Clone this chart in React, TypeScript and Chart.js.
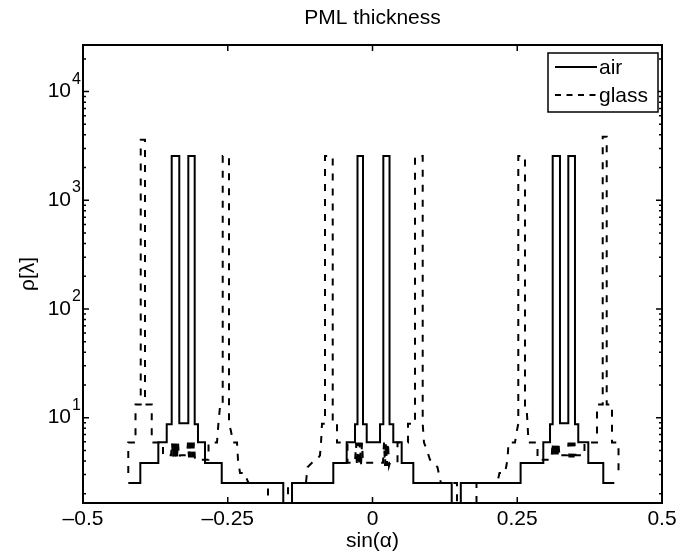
import React, { useEffect, useRef } from "react";
import { Chart, registerables } from "chart.js";

Chart.register(...registerables);

const FONT_FAMILY = "'Liberation Sans', Arial, Helvetica, sans-serif";

const titleText = "PML thickness";
const xAxisLabel = "sin(α)";
const yAxisLabel = "ρ[λ]";
const seriesNames = ["air", "glass"];

const xRange = [-0.5, 0.5];
const yRange = [1.64, 26850];
const xTickValues = [-0.5, -0.25, 0, 0.25, 0.5];
const xTickLabels = ["–0.5", "–0.25", "0", "0.25", "0.5"];
const yTickValues = [10, 100, 1000, 10000];
const yTickBase = ["10", "10", "10", "10"];
const yTickExponents = ["1", "2", "3", "4"];
const yMinorTickValues = [
  2, 3, 4, 5, 6, 7, 8, 9,
  20, 30, 40, 50, 60, 70, 80, 90,
  200, 300, 400, 500, 600, 700, 800, 900,
  2000, 3000, 4000, 5000, 6000, 7000, 8000, 9000,
  20000,
];

// "air": level changes (each value holds from its x until the next x)
const airX = [
  -0.4218, -0.401, -0.3699, -0.3554, -0.3468, -0.3337, -0.3181, -0.3071, -0.3014, -0.2893,
  -0.2604, -0.1541, -0.139, -0.0677, -0.0446, -0.0302, -0.0259, -0.0164, -0.01, 0.013,
  0.0187, 0.0294, 0.0359, 0.0504, 0.0705, 0.1368, 0.1525, 0.2558, 0.295, 0.3066,
  0.3112, 0.3238, 0.3382, 0.3497, 0.3554, 0.3727, 0.3986, 0.4176,
];
const airY = [
  2.51, 3.83, 5.93, 8.7, 2550, 8.9, 2550, 8.7, 5.93, 3.83,
  2.51, 1.0, 2.51, 3.83, 5.93, 8.7, 2550, 8.7, 5.93, 8.7,
  2550, 8.7, 5.93, 3.83, 2.51, 1.0, 2.51, 3.83, 5.93, 8.7,
  2550, 8.9, 2550, 8.7, 5.93, 3.83, 2.51, 2.51,
];

// "glass": curve vertices
const glassX = [
  -0.4218, -0.4218, -0.4093, -0.4093, -0.4003, -0.4003, -0.3929, -0.3929, -0.3813, -0.3813, -0.3618, -0.3618, -0.348,
  -0.3463, -0.3446, -0.3428, -0.3411, -0.3394, -0.3377, -0.3359, -0.3342, -0.3325, -0.3204,
  -0.3187, -0.3169, -0.3152, -0.3135, -0.3117, -0.31, -0.3083, -0.3066,
  -0.2832, -0.2832, -0.2686, -0.266, -0.2634, -0.2587, -0.2587, -0.2478, -0.2478,
  -0.2444, -0.2409, -0.234, -0.2323, -0.2288, -0.2202, -0.2168, -0.2142,
  -0.1805, -0.1805, -0.1459, -0.1459,
  -0.1149, -0.1123, -0.1045, -0.0959, -0.0907, -0.0889, -0.0872,
  -0.082, -0.082, -0.0687, -0.0687, -0.0613, -0.0613, -0.0432, -0.0432, -0.0302,
  -0.0285, -0.0268, -0.025, -0.0233, -0.0216, -0.0199, -0.0181, -0.0164, 0.0181,
  0.0199, 0.0216, 0.0233, 0.025, 0.0268, 0.0285, 0.0302,
  0.0432, 0.0432, 0.0613, 0.0613, 0.0734, 0.0734, 0.0867, 0.0867,
  0.0889, 0.0941, 0.0993, 0.1045, 0.1123, 0.1166, 0.1183,
  0.1459, 0.1459, 0.1796, 0.1796,
  0.2142, 0.2168, 0.2193, 0.2288, 0.2332, 0.2349, 0.2461, 0.2492,
  0.2518, 0.2518, 0.2634, 0.2634, 0.266, 0.2677, 0.2694, 0.285, 0.285, 0.3092,
  0.3109, 0.3126, 0.3143, 0.3161, 0.3178, 0.3195, 0.3212, 0.323, 0.3247, 0.3368,
  0.3385, 0.3402, 0.342, 0.3437, 0.3454, 0.3472, 0.3489, 0.3506,
  0.3661, 0.3661,
  0.3877, 0.3877, 0.3976, 0.3976, 0.4045, 0.4045, 0.4136, 0.4136, 0.4249, 0.4249,
];
const glassY = [
  3.1, 5.9, 5.9, 13.2, 13.2, 3600, 3600, 13.2, 13.2, 5.9, 5.9, 4.5, 4.5,
  5.9, 4.3, 5.9, 4.3, 5.9, 4.3, 5.9, 4.3, 4.5, 4.5,
  5.9, 4.3, 5.9, 4.3, 5.9, 4.3, 5.9, 4.1,
  4.1, 5.9, 5.9, 9, 12.6, 12.6, 2550, 2550, 8.8,
  7.5, 5.9, 5.9, 4.1, 3.1, 3.1, 2.7, 2.51,
  2.51, 1.0, 1.0, 2.51,
  2.51, 3.5, 3.85, 4.1, 4.5, 5.9, 8.8,
  8.8, 2550, 2550, 8.8, 8.8, 5.9, 5.9, 3.85, 3.85,
  5.9, 3.6, 5.9, 3.6, 5.9, 3.6, 5.9, 3.85, 3.85,
  5.9, 3.6, 5.9, 3.6, 5.9, 3.6, 3.85,
  3.85, 5.9, 5.9, 8.8, 8.8, 2550, 2550, 8.8,
  5.9, 5.0, 4.1, 3.85, 3.5, 2.7, 2.51,
  2.51, 1.0, 1.0, 2.51,
  2.51, 2.7, 3.1, 3.1, 4.1, 5.9, 5.9, 7.5,
  8.8, 2550, 2550, 12.6, 12.6, 9, 5.9, 5.9, 4.1, 4.1,
  5.9, 4.3, 5.9, 4.3, 5.9, 4.3, 5.9, 4.3, 4.5, 4.5,
  5.9, 4.3, 5.9, 4.3, 5.9, 4.3, 5.9, 4.5,
  4.5, 5.9,
  5.9, 13.2, 13.2, 3850, 3850, 13.2, 13.2, 5.9, 5.9, 3.1,
];

const matlabAxesPlugin = {
  id: "matlabAxes",
  afterDraw(chart: any) {
    const { ctx, chartArea: a, scales } = chart;
    const xs = scales.x;
    const ys = scales.y;
    ctx.save();
    ctx.strokeStyle = "#000";
    ctx.lineCap = "butt";

    // inward ticks
    ctx.lineWidth = 1.5;
    ctx.beginPath();
    xTickValues.forEach((v) => {
      const px = xs.getPixelForValue(v);
      ctx.moveTo(px, a.bottom);
      ctx.lineTo(px, a.bottom - 6);
      ctx.moveTo(px, a.top);
      ctx.lineTo(px, a.top + 6);
    });
    yTickValues.forEach((v) => {
      const py = ys.getPixelForValue(v);
      ctx.moveTo(a.left, py);
      ctx.lineTo(a.left + 6, py);
      ctx.moveTo(a.right, py);
      ctx.lineTo(a.right - 6, py);
    });
    yMinorTickValues.forEach((v) => {
      const py = ys.getPixelForValue(v);
      ctx.moveTo(a.left, py);
      ctx.lineTo(a.left + 3, py);
      ctx.moveTo(a.right, py);
      ctx.lineTo(a.right - 3, py);
    });
    ctx.stroke();

    // frame
    ctx.lineWidth = 2;
    ctx.strokeRect(a.left, a.top, a.right - a.left, a.bottom - a.top);

    // exponents of the y tick labels
    ctx.fillStyle = "#000";
    ctx.font = `16px ${FONT_FAMILY}`;
    ctx.textAlign = "left";
    ctx.textBaseline = "alphabetic";
    yTickValues.forEach((v, i) => {
      const py = ys.getPixelForValue(v);
      ctx.fillText(yTickExponents[i], a.left - 11, py - 8);
    });

    // legend
    const bw = 110;
    const bh = 59;
    const bx = a.right - 4 - bw;
    const by = a.top + 8;
    ctx.fillStyle = "#fff";
    ctx.fillRect(bx, by, bw, bh);
    ctx.lineWidth = 1.5;
    ctx.strokeStyle = "#000";
    ctx.strokeRect(bx, by, bw, bh);
    chart.data.datasets.forEach((ds: any, i: number) => {
      const ly = by + 14 + i * 28;
      ctx.beginPath();
      ctx.lineWidth = 2;
      ctx.setLineDash(i === 1 ? [6, 5.5] : []);
      ctx.moveTo(bx + 7, ly);
      ctx.lineTo(bx + 49, ly);
      ctx.stroke();
      ctx.setLineDash([]);
      ctx.fillStyle = "#000";
      ctx.font = `21px ${FONT_FAMILY}`;
      ctx.textBaseline = "middle";
      ctx.textAlign = "left";
      ctx.fillText(ds.label, bx + 51, ly + 1);
    });
    ctx.restore();
  },
};

export default function App() {
  const canvasRef = useRef<HTMLCanvasElement>(null);

  useEffect(() => {
    const canvas = canvasRef.current;
    if (!canvas) return;
    const font = { family: FONT_FAMILY, size: 21, weight: "normal" as const };
    const chart = new Chart(canvas, {
      type: "line",
      data: {
        datasets: [
          {
            label: seriesNames[0],
            data: airX.map((x, i) => ({ x, y: airY[i] })),
            borderColor: "#000",
            borderWidth: 2,
            pointRadius: 0,
            stepped: "before",
            fill: false,
            borderJoinStyle: "miter",
            borderCapStyle: "butt",
          },
          {
            label: seriesNames[1],
            data: glassX.map((x, i) => ({ x, y: glassY[i] })),
            borderColor: "#000",
            borderWidth: 2,
            pointRadius: 0,
            borderDash: [7, 8],
            fill: false,
            tension: 0,
            borderJoinStyle: "miter",
            borderCapStyle: "butt",
          },
        ],
      },
      options: {
        responsive: false,
        animation: false,
        events: [],
        layout: { padding: { left: 0, right: 20, top: 0, bottom: 0 } },
        plugins: {
          legend: { display: false },
          tooltip: { enabled: false },
          title: {
            display: true,
            text: titleText,
            color: "#000",
            fullSize: false,
            font,
            padding: { top: 6, bottom: 13.8 },
          },
        },
        scales: {
          x: {
            type: "linear",
            min: xRange[0],
            max: xRange[1],
            grid: { display: false, drawTicks: false },
            border: { display: false },
            ticks: {
              color: "#000",
              font,
              padding: 4,
              maxRotation: 0,
              minRotation: 0,
              autoSkip: false,
              callback: (v: any) => {
                const i = xTickValues.indexOf(Number(v));
                return i >= 0 ? xTickLabels[i] : "";
              },
            },
            afterBuildTicks: (s: any) => {
              s.ticks = xTickValues.map((value) => ({ value }));
            },
            afterFit: (s: any) => {
              s.height = 56;
            },
            title: {
              display: true,
              text: xAxisLabel,
              color: "#000",
              font,
              padding: { top: 0, bottom: 5.4 },
            },
          },
          y: {
            type: "logarithmic",
            min: yRange[0],
            max: yRange[1],
            grid: { display: false, drawTicks: false },
            border: { display: false },
            ticks: {
              color: "#000",
              font,
              padding: 12,
              autoSkip: false,
              callback: (v: any) => {
                const i = yTickValues.indexOf(Number(v));
                return i >= 0 ? yTickBase[i] : "";
              },
            },
            afterBuildTicks: (s: any) => {
              s.ticks = yTickValues.map((value) => ({ value, major: true }));
            },
            afterFit: (s: any) => {
              s.width = 83;
            },
            title: {
              display: true,
              text: yAxisLabel,
              color: "#000",
              font,
              padding: { top: 15.4, bottom: 0 },
            },
          },
        },
      },
      plugins: [matlabAxesPlugin],
    } as any);
    return () => chart.destroy();
  }, []);

  return (
    <div
      style={{
        position: "absolute",
        left: 0,
        top: 0,
        width: 682,
        height: 559,
        background: "#fff",
      }}
    >
      <canvas
        ref={canvasRef}
        width={682}
        height={559}
        style={{ display: "block", width: 682, height: 559 }}
      />
    </div>
  );
}
